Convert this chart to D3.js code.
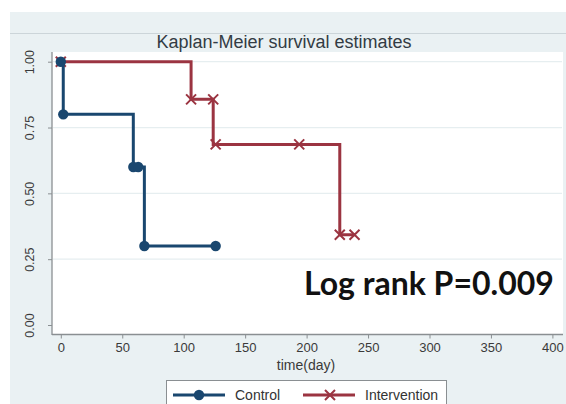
<!DOCTYPE html>
<html><head><meta charset="utf-8">
<script src="https://cdn.jsdelivr.net/npm/d3@7"></script>
<style>body{margin:0;background:#fff}svg{display:block}</style>
</head><body>
<svg id="c" width="566" height="404"></svg>
<script>
// ---- data ----
const xTicks = [0, 50, 100, 150, 200, 250, 300, 350, 400];
const yTicks = [0, 0.25, 0.5, 0.75, 1];
const controlStepTime = [0, 2, 59, 68, 126];
const controlStepSurv = [1, 0.8, 0.6, 0.3, 0.3];
const controlMarkTime = [0, 2, 59, 63, 68, 126];
const controlMarkSurv = [1, 0.8, 0.6, 0.6, 0.3, 0.3];
const interStepTime = [0, 106, 124, 227, 239];
const interStepSurv = [1, 0.857, 0.686, 0.343, 0.343];
const interMarkTime = [0, 106, 124, 126, 194, 227, 239];
const interMarkSurv = [1, 0.857, 0.857, 0.686, 0.686, 0.343, 0.343];
const seriesNames = ["Control", "Intervention"];
const titleText = "Kaplan-Meier survival estimates";
const xLabel = "time(day)";
const annotation = "Log rank P=0.009";

const blue = "#1a476f", red = "#9b3441";
const svg = d3.select("#c");
// backgrounds
svg.append("rect").attr("x",10).attr("y",12).attr("width",556).attr("height",392).attr("fill","#eaf1f3");
svg.append("line").attr("x1",10).attr("x2",566).attr("y1",33.5).attr("y2",33.5).attr("stroke","#ccd5d9").attr("stroke-width",1);
svg.append("rect").attr("x",52).attr("y",52).attr("width",511).attr("height",282).attr("fill","#fff");

const x = d3.scaleLinear().domain([0,400]).range([60.8,552.4]);
const y = d3.scaleLinear().domain([0,1]).range([325,61.7]);

// gridlines
svg.append("g").selectAll("line").data(yTicks.filter(d=>d>0)).join("line")
  .attr("x1",53).attr("x2",562).attr("y1",d=>y(d)).attr("y2",d=>y(d))
  .attr("stroke","#e6eef0").attr("stroke-width",1.2);

// axes
const font = "'Liberation Sans', Arial, sans-serif";
const xa = svg.append("g").attr("transform","translate(0,334.5)")
  .call(d3.axisBottom(x).tickValues(xTicks).tickSize(4).tickPadding(4).tickFormat(d3.format("d")));
xa.select(".domain").remove();
xa.append("line").attr("x1",52).attr("x2",563).attr("stroke","#8a8f92").attr("stroke-width",1.3);
xa.selectAll(".tick line").attr("stroke","#8a8f92");
xa.selectAll("text").attr("font-family",font).attr("font-size",13).attr("fill","#3a3a3a");

const ya = svg.append("g").attr("transform","translate(52,0)")
  .call(d3.axisLeft(y).tickValues(yTicks).tickSize(4).tickFormat(d3.format(".2f")));
ya.select(".domain").remove();
ya.append("line").attr("y1",52).attr("y2",335).attr("stroke","#8a8f92").attr("stroke-width",1.3);
ya.selectAll(".tick line").attr("stroke","#8a8f92");
ya.selectAll(".tick text").attr("font-family",font).attr("font-size",12.5).attr("fill","#3a3a3a")
  .attr("transform","rotate(-90)").attr("x",0).attr("y",-22).attr("dy","0.35em").attr("text-anchor","middle");

// title
svg.append("text").attr("x",284).attr("y",47.5).attr("text-anchor","middle")
  .attr("font-family",font).attr("font-size",18).attr("fill","#333c44").text(titleText);
// x label
svg.append("text").attr("x",306).attr("y",370).attr("text-anchor","middle")
  .attr("font-family",font).attr("font-size",14).attr("fill","#3a3a3a").text(xLabel);

// steps
const line = d3.line().x(d=>x(d[0])).y(d=>y(d[1])).curve(d3.curveStepAfter);
const interStep = interStepTime.map((t,i)=>[t,interStepSurv[i]]);
const controlStep = controlStepTime.map((t,i)=>[t,controlStepSurv[i]]);
svg.append("path").datum(interStep).attr("d",line).attr("fill","none").attr("stroke",red).attr("stroke-width",3);
const cross = (g, px, py, s) => {
  g.append("path").attr("d",`M${px-s},${py-s}L${px+s},${py+s}M${px-s},${py+s}L${px+s},${py-s}`)
   .attr("stroke",red).attr("stroke-width",2).attr("fill","none");
};
const ig = svg.append("g");
interMarkTime.forEach((t,i)=>cross(ig, x(t), y(interMarkSurv[i]), 5));
svg.append("path").datum(controlStep).attr("d",line).attr("fill","none").attr("stroke",blue).attr("stroke-width",3);
svg.append("g").selectAll("circle").data(controlMarkTime.map((t,i)=>[t,controlMarkSurv[i]])).join("circle")
  .attr("cx",d=>x(d[0])).attr("cy",d=>y(d[1])).attr("r",5.2).attr("fill",blue);

// annotation
svg.append("text").attr("x",304).attr("y",295).attr("font-family","Lato, 'Open Sans', sans-serif")
  .attr("font-weight","bold").attr("font-size",32).attr("fill","#111").text(annotation);

// legend
const lg = svg.append("g");
lg.append("rect").attr("x",166.5).attr("y",380.5).attr("width",280).attr("height",32).attr("fill","#fff").attr("stroke","#8a8f92");
lg.append("line").attr("x1",173).attr("x2",225).attr("y1",395).attr("y2",395).attr("stroke",blue).attr("stroke-width",3);
lg.append("circle").attr("cx",199).attr("cy",395).attr("r",5.2).attr("fill",blue);
lg.append("text").attr("x",235).attr("y",400).attr("font-family",font).attr("font-size",14).attr("fill","#333").text(seriesNames[0]);
lg.append("line").attr("x1",303).attr("x2",355).attr("y1",395).attr("y2",395).attr("stroke",red).attr("stroke-width",3);
cross(lg, 330, 395, 5);
lg.append("text").attr("x",365).attr("y",400).attr("font-family",font).attr("font-size",14).attr("fill","#333").text(seriesNames[1]);
</script>
</body></html>
